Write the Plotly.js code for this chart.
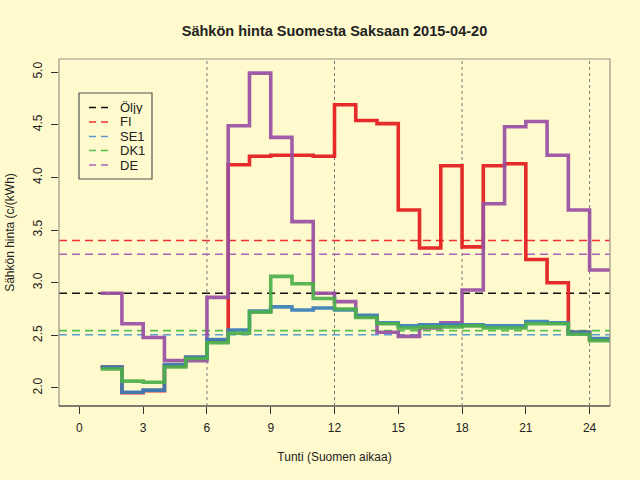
<!DOCTYPE html>
<html>
<head>
<meta charset="utf-8">
<script src="https://cdn.plot.ly/plotly-3.0.1.min.js"></script>
<style>html,body{margin:0;padding:0;background:#FFFACD;}</style>
</head>
<body>
<div id="chart" style="width:640px;height:480px;"></div>
<script>
// ---- data ----
const hours = [1,2,3,4,5,6,7,8,9,10,11,12,13,14,15,16,17,18,19,20,21,22,23,24];
const FI  = [2.20,1.955,1.975,2.21,2.29,2.45,4.12,4.20,4.21,4.21,4.20,4.69,4.54,4.51,3.69,3.33,4.11,3.34,4.11,4.13,3.22,3.00,2.53,2.46];
const SE1 = [2.20,1.96,1.98,2.22,2.295,2.46,2.55,2.73,2.77,2.74,2.76,2.74,2.69,2.62,2.59,2.60,2.60,2.60,2.59,2.59,2.63,2.62,2.53,2.47];
const DK1 = [2.18,2.065,2.055,2.20,2.28,2.43,2.52,2.72,3.06,2.99,2.85,2.75,2.67,2.61,2.57,2.58,2.58,2.59,2.57,2.57,2.61,2.61,2.51,2.45];
const DE  = [2.90,2.61,2.48,2.26,2.26,2.86,4.49,4.99,4.38,3.58,2.90,2.82,2.68,2.53,2.49,2.57,2.62,2.93,3.75,4.48,4.53,4.21,3.69,3.12];
const averageNames = ["Öljy","FI","SE1","DK1","DE"];
const averageValues = [2.90,3.40,2.505,2.545,3.27];
const xTicks = [0,3,6,9,12,15,18,21,24];
const yTicks = [2.0,2.5,3.0,3.5,4.0,4.5,5.0];
const gridHours = [6,12,18,24];

// ---- styles ----
const colors = {"Öljy":"#000000","FI":"#E41A1C","SE1":"#377EB8","DK1":"#4DAF4A","DE":"#984EA3"};
const dashColors = {"Öljy":"#111111","FI":"#EE3333","SE1":"#5A9BD0","DK1":"#55C050","DE":"#A865B5"};
const FONT = "Liberation Sans, Arial, Helvetica, sans-serif";
const TXT = "#222222";

const seriesData = {FI:FI, SE1:SE1, DK1:DK1, DE:DE};
const drawOrder = ["FI","DE","SE1","DK1"];

// step traces: extend last hour to next hour
const traces = drawOrder.map(name => {
  const ys = seriesData[name];
  const xs = hours.concat([hours[hours.length-1] + 1]);
  const yy = ys.concat([ys[ys.length-1]]);
  return {
    x: xs, y: yy, type: "scatter", mode: "lines", name: name,
    line: {shape: "hv", color: colors[name], width: 3.6},
    opacity: 0.92, showlegend: false, hoverinfo: "skip"
  };
});

// plot area in px
const L = 59, R = 610, T = 59, B = 406;
const px2x = p => (p - L) / (R - L);
const py2y = p => (B - p) / (B - T);

const shapes = [];
gridHours.forEach(h => shapes.push({
  type: "line", xref: "x", yref: "paper", x0: h, x1: h, y0: 0, y1: 1,
  line: {color: "#777777", width: 1, dash: "dot"}, layer: "below"
}));
averageNames.forEach((n, i) => shapes.push({
  type: "line", xref: "paper", yref: "y", x0: 0, x1: 1, y0: averageValues[i], y1: averageValues[i],
  line: {color: dashColors[n], width: 1.6, dash: "8px,5px"}, layer: "below"
}));
shapes.push({type: "rect", xref: "paper", yref: "paper", x0: 0, x1: 1, y0: 0, y1: 1,
  line: {color: "#9a9488", width: 1.2}, fillcolor: "rgba(0,0,0,0)", layer: "above"});
shapes.push({type: "line", xref: "paper", yref: "paper", x0: 0, x1: 1, y0: 0, y1: 0,
  line: {color: "#333333", width: 1.2}, layer: "above"});

// legend box
shapes.push({type: "rect", xref: "paper", yref: "paper",
  x0: px2x(79), x1: px2x(152), y0: py2y(179), y1: py2y(93),
  line: {color: "#555555", width: 1.2}, fillcolor: "#FFFACD", layer: "above"});
const annotations = [];
const legendRows = [107.5, 122, 136.5, 150.5, 165];
averageNames.forEach((n, i) => {
  const yy = py2y(legendRows[i]);
  shapes.push({type: "line", xref: "paper", yref: "paper",
    x0: px2x(89), x1: px2x(109), y0: yy, y1: yy,
    line: {color: dashColors[n], width: 1.6, dash: "7px,5px"}, layer: "above"});
  annotations.push({xref: "paper", yref: "paper", x: px2x(119), y: yy,
    xanchor: "left", yanchor: "middle", text: n, showarrow: false,
    height: 13, borderpad: 0,
    font: {family: FONT, size: 13, color: TXT}});
});

const layout = {
  width: 640, height: 480,
  margin: {l: L, r: 640 - R, t: T, b: 480 - B, pad: 0},
  paper_bgcolor: "#FFFACD", plot_bgcolor: "#FFFACD",
  font: {family: FONT, size: 12, color: TXT},
  title: {text: "Sähkön hinta Suomesta Saksaan 2015-04-20",
    font: {family: FONT, size: 14.5, color: TXT, weight: "bold"},
    x: 0.5 * (L + R) / 640, xanchor: "center", xref: "container",
    y: 1 - 31 / 480, yanchor: "middle", yref: "container"},
  xaxis: {
    range: [-0.96, 24.96], tickmode: "array", tickvals: xTicks,
    ticktext: xTicks.map(String),
    ticks: "outside", ticklen: 7, tickwidth: 1, tickcolor: "#333333",
    showgrid: false, zeroline: false, showline: false,
    tickfont: {family: FONT, size: 12, color: TXT}, ticklabelstandoff: 4,
    title: {text: "Tunti (Suomen aikaa)", font: {family: FONT, size: 12, color: TXT}, standoff: 18},
    fixedrange: true
  },
  yaxis: {
    range: [1.829, 5.124], tickmode: "array", tickvals: yTicks,
    ticktext: yTicks.map(v => v.toFixed(1)),
    ticks: "outside", ticklen: 7, tickwidth: 1, tickcolor: "#333333",
    tickangle: -90,
    showgrid: false, zeroline: false, showline: false,
    tickfont: {family: FONT, size: 12, color: TXT}, ticklabelstandoff: 4,
    title: {text: "Sähkön hinta (c/(kWh)", font: {family: FONT, size: 12, color: TXT}, standoff: 14},
    fixedrange: true
  },
  shapes: shapes,
  annotations: annotations,
  showlegend: false
};

Plotly.newPlot("chart", traces, layout, {displayModeBar: false, staticPlot: true});
</script>
</body>
</html>
